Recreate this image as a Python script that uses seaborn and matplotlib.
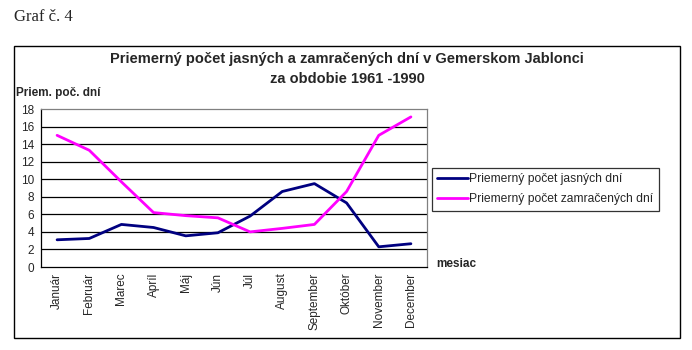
import numpy as np
import pandas as pd
import matplotlib
matplotlib.use('Agg')
import matplotlib.pyplot as plt
import seaborn as sns
from matplotlib.patches import Rectangle
from matplotlib.lines import Line2D

# Údaje
mesiace = ['Január', 'Február', 'Marec', 'Apríl', 'Máj', 'Jún', 'Júl',
           'August', 'September', 'Október', 'November', 'December']
jasne = [3.1, 3.25, 4.85, 4.5, 3.55, 3.9, 5.8, 8.6, 9.5, 7.3, 2.3, 2.65]
zamracene = [15.0, 13.3, 9.7, 6.2, 5.85, 5.6, 4.0, 4.4, 4.85, 8.6, 15.0, 17.1]
nazvy = ['Priemerný počet jasných dní', 'Priemerný počet zamračených dní']
farby = ['#000080', '#FF00FF']

df = pd.DataFrame({
    'mesiac': list(range(12)) * 2,
    'hodnota': jasne + zamracene,
    'rad': [nazvy[0]] * 12 + [nazvy[1]] * 12,
})

sns.set_style('white')
plt.rcParams['font.family'] = ['Liberation Sans', 'DejaVu Sans']

W, H = 692, 350
fig = plt.figure(figsize=(W / 100, H / 100), dpi=100)

# Poloha grafu v pixeloch.
x0, x1, y0, y1 = 41, 427, 109, 267
ax = fig.add_axes([x0 / W, 1 - y1 / H, (x1 - x0) / W, (y1 - y0) / H])

sns.lineplot(data=df, x='mesiac', y='hodnota', hue='rad', palette=farby,
             linewidth=2.0, ax=ax, legend=False)

ax.set_xlim(-0.5, 11.5)
ax.set_ylim(0, 18)
ax.set_yticks(range(0, 19, 2))
ax.set_yticklabels([str(v) for v in range(0, 19, 2)], fontsize=8.5)
ax.set_xticks(np.arange(12))
ax.set_xticklabels(mesiace, rotation=90, fontsize=8.5)
ax.set_xticks(np.arange(-0.5, 12, 1), minor=True)
ax.tick_params(axis='x', which='major', length=0, pad=4)
ax.tick_params(axis='x', which='minor', length=4, width=0.8, color='black', direction='out')
ax.tick_params(axis='y', length=4, width=0.8, color='black', direction='out', pad=1)
ax.set_xlabel('')
ax.set_ylabel('')

# Mriežka a okraje
for v in range(2, 18, 2):
    ax.axhline(v, color='black', linewidth=0.9, zorder=0)
for s in ['left', 'bottom']:
    ax.spines[s].set_color('black')
    ax.spines[s].set_linewidth(0.9)
for s in ['top', 'right']:
    ax.spines[s].set_color('#808080')
    ax.spines[s].set_linewidth(0.9)

# Legenda
h = [Line2D([0], [0], color=c, linewidth=2.0) for c in farby]
leg = fig.legend(h, nazvy, loc='upper left',
                 bbox_to_anchor=(432 / W, 1 - 168 / H), frameon=True,
                 fancybox=False, edgecolor='black', fontsize=8.7,
                 handlelength=2.5, handletextpad=0.15, borderpad=0.45,
                 labelspacing=0.65, borderaxespad=0)
leg.get_frame().set_linewidth(0.9)

# Texty
fig.text(14 / W, 1 - 17 / H, 'Graf č. 4', family='Liberation Serif',
         fontsize=12, va='center', ha='left')
fig.text(347 / W, 1 - 59 / H, 'Priemerný počet jasných a zamračených dní v Gemerskom Jablonci',
         fontsize=10.5, fontweight='bold', ha='center', va='center')
fig.text(347 / W, 1 - 79 / H, 'za obdobie 1961 -1990',
         fontsize=10.5, fontweight='bold', ha='center', va='center')
fig.text(16 / W, 1 - 93 / H, 'Priem. poč. dní', fontsize=8.5,
         fontweight='bold', ha='left', va='center')
fig.text(436 / W, 1 - 264 / H, 'mesiac', fontsize=8.5,
         fontweight='bold', ha='left', va='center')

# Rámček
fig.patches.append(Rectangle((14 / W, 1 - 338 / H), (680 - 14) / W, (338 - 46) / H,
                             transform=fig.transFigure, fill=False,
                             edgecolor='black', linewidth=1.0))

fig.savefig('out.png', dpi=100)
